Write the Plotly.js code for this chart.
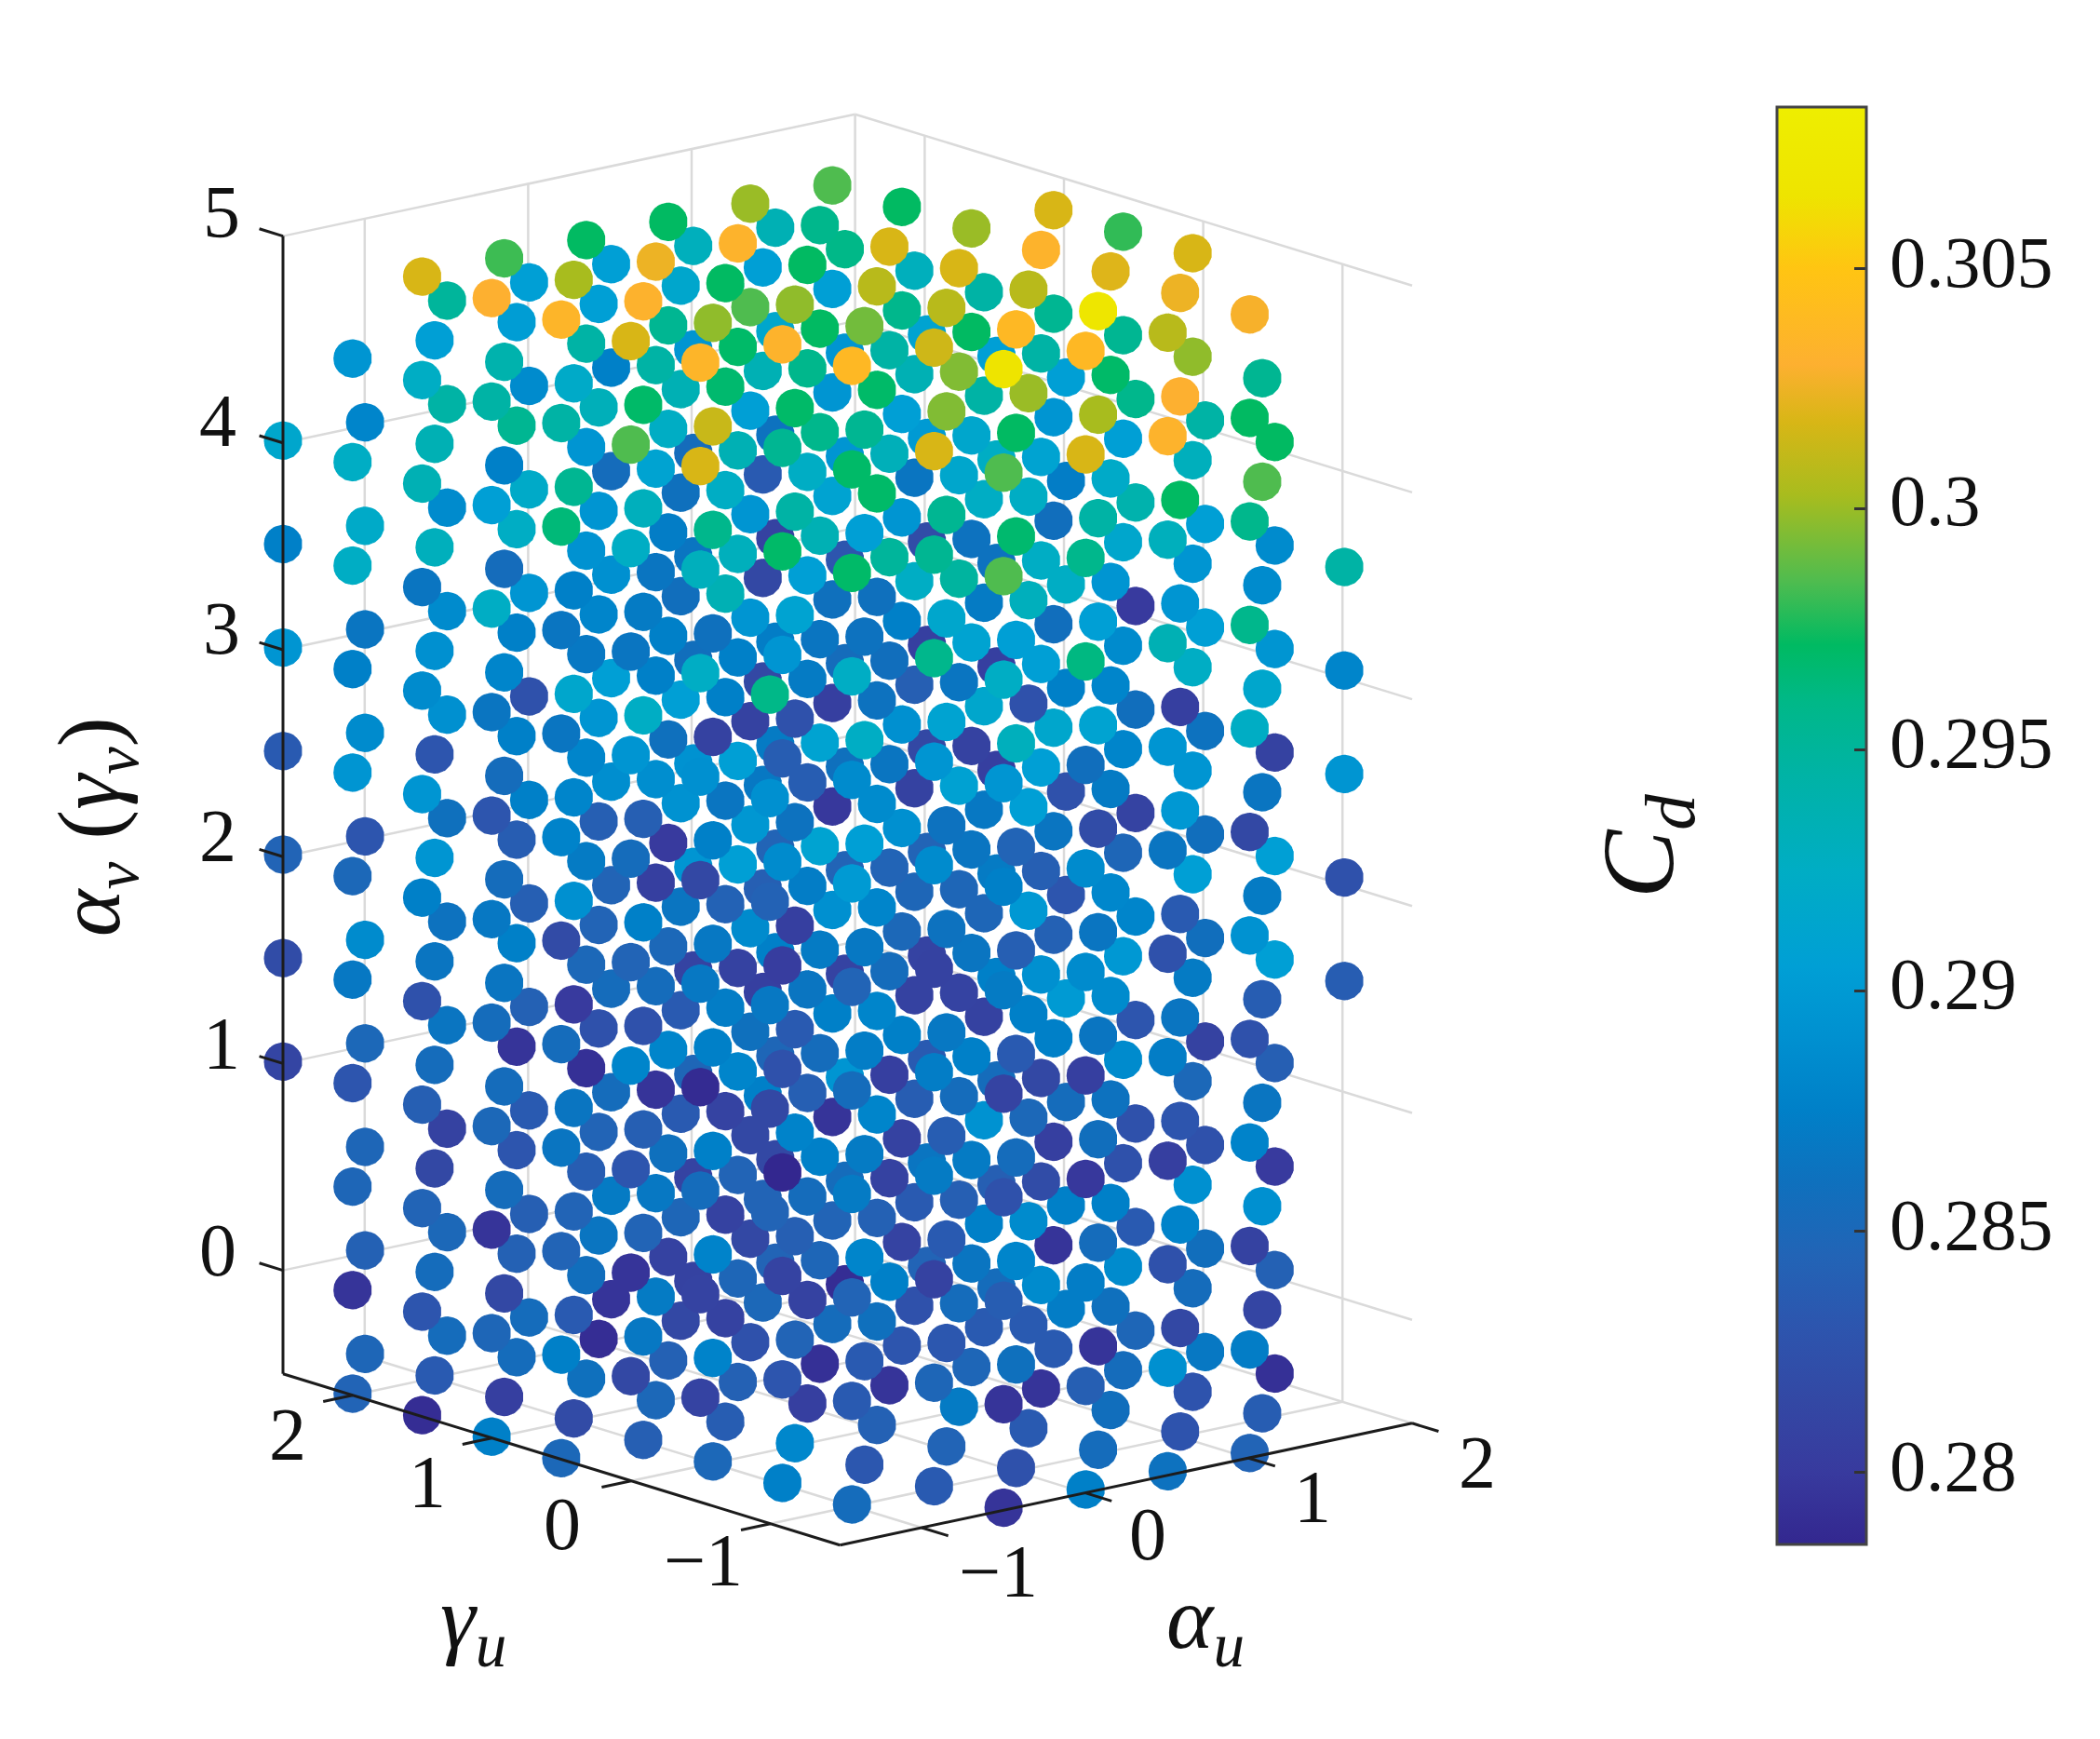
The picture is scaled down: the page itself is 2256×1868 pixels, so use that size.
<!DOCTYPE html>
<html><head><meta charset="utf-8">
<script src="https://cdn.plot.ly/plotly-3.0.1.min.js"></script>
<style>html,body{margin:0;padding:0;background:#fff}#g{width:2256px;height:1868px}</style>
</head><body><div id="g"></div>
<script>
const alphaU=[-1.5,-1,-0.5,0,0.5,1,1.5,2];
const gammaU=[2.5,2,1.5,1,0.5,0,-0.5,-1,-1.5];
const zLevels=[-0.5,0,0.5,1,1.5,2,2.5,3,3.5,4,4.5,5];
const _=null;
// Cd per (alpha column) for each gamma, bottom to top in z
const cdG25=[
[_,_,_,.2812,.282,.2845,.2835,.2895,.2875,.2915,_,_],
[.2848,.2842,.2848,.285,.2885,.283,.2885,.2865,.292,.288,_,_],
[.2855,.285,.2808,.2865,.2862,.286,.289,.2885,.2885,.2945,.295,_],
[.2855,.284,.2835,.2842,.284,.2875,.2825,.2895,.292,.2885,.2905,_],
[.2795,.287,.2855,.2855,.2845,.2888,.2905,.289,.2855,.2875,.2905,_],
[.2808,.281,.2848,.281,.2895,.2892,.2858,.2865,.2855,.2895,.293,_],
[.2845,.2815,.2848,.2875,.2845,.287,.2872,.2808,.2862,.2915,.2935,_],
[_,_,_,_,_,_,_,_,_,_,_,_]];
const cdG20=[
[.2845,.2795,.2848,.283,.2868,.285,.2895,.2875,.2925,.2925,.2895,_],
[.2835,.2855,.2815,.2855,.2865,.2895,.283,.289,.293,.2935,.2905,_],
[.2855,.2842,.283,.2795,.2875,.2838,.2875,.2875,.2925,.2955,.2903,_],
[.279,.2865,.2845,.2825,.2845,.284,.2895,.288,.2895,.2932,.2905,_],
[.2815,.2848,.2835,.2835,.2865,.2892,.2905,.2858,.286,.2935,.2915,_],
[.285,.2845,.2875,.2805,.284,.2868,.2815,.2815,.2835,.2935,.2905,_],
[.279,.2855,.2895,.281,.2845,.286,.2855,.283,.2895,.2895,.296,_],
[.2845,.2865,.2835,.281,.2845,.2815,.2805,.282,.29,.291,_,_]];
const cdG15=[
[.279,.283,.2845,.284,.2825,.2875,.2895,.2885,.2865,.2935,.2925,.3018],
[.2805,.2815,.2855,.2855,.2865,.2855,.2855,.288,.2855,.2875,.294,.2982],
[.286,.2858,.2838,.2792,.285,.287,.288,.2868,.2892,.2895,.2945,.2972],
[.2842,.2808,.286,.288,.285,.28,.286,.2875,.2872,.2925,.2955,.2972],
[.2825,.2815,.2815,.286,.2885,.2897,.2808,.2895,.2895,.2905,.2985,.3],
[.2855,.2845,.2795,.2875,.289,.2798,.2805,.286,.291,.2895,.2905,.2985],
[.2825,.2835,.2838,.2808,.2848,.2808,.284,.2925,.2865,.2935,.293,_],
[.2855,.284,.2855,.2875,.287,.2805,.2805,.2862,.2925,.2905,_,_]];
const cdG10=[
[.2875,.2848,.2795,.285,.2855,.2868,.283,.2865,.2925,.2905,.2945,.303],
[.2818,.2835,.2845,.2865,.28,.289,.288,.2915,.2875,.2955,.292,.3003],
[.285,.287,.2868,.2795,.2855,.2805,.2888,.2875,.2865,.291,.2945,.3025],
[.2842,.2848,.2845,.288,.2808,.2905,.2905,.2875,.293,.2935,.297,.3033],
[.2792,.2848,.2875,.2855,.287,.291,.291,.2865,.2935,.2958,.2972,.2958],
[.283,.281,.2808,.2875,.285,.289,.289,.2875,.2895,.2905,.2958,.2972],
[.2835,.2875,.2892,.2808,.2848,.2868,.2915,.287,.2925,.2945,.2945,_],
[.2872,.2875,.2855,.29,.283,.2825,.2875,.2925,.2872,.2905,_,_]];
const cdG05=[
[.285,.2875,.2845,.2865,.2855,.2818,.2878,.2865,.2865,.2965,.2945,.3035],
[.284,.2868,.2845,.284,.2825,.2875,.284,.2925,.287,.293,.297,.3032],
[.2838,.2808,.2808,.281,.2872,.2843,.2865,.2875,.2935,.2925,.2968,.2972],
[.2805,.2808,.2855,.284,.2865,.2872,.2838,.287,.2905,.2925,.2958,.2972],
[.2795,.2875,.2808,.2805,.2855,.2845,.2865,.2858,.295,.2932,.2945,.3018],
[.2848,.2865,.287,.2875,.2865,.2865,.2808,.291,.2862,.2915,.2972,.3],
[.2835,.2795,.2805,.2875,.2842,.2865,.2915,.2858,.2858,.2895,.2955,.3018],
[.2848,.2835,.2825,.283,.288,.281,.2858,.28,.294,.2958,_,_]];
const cdG00=[
[_,.2815,.2795,.283,.288,.2845,.2855,.2895,.2865,.2925,.2985,.3018],
[.285,.2878,.2878,.2875,.2875,.2868,.2875,.2808,.286,.2958,.3013,.2998],
[.2882,.2845,.284,.2878,.2835,.2805,.2862,.2825,.291,.2945,.297,.2998],
[.2842,.286,.2842,.288,.288,.288,.2885,.2862,.286,.297,.297,.3008],
[.287,.2855,.284,.2855,.281,.2848,.2908,.2865,.2948,.2915,.2995,.3018],
[.2795,.2885,.282,.2815,.289,.284,.2905,.2905,.2925,.291,.2945,.3033],
[.2855,.2885,.2825,.2885,.2898,.2848,.288,.2885,.2915,.2905,.2955,.298],
[.2868,.2858,.2825,.2808,.2858,.2858,.2862,.2905,.2905,.2945,_,_]];
const cdGm05=[
[_,.281,.281,.2855,.2788,.2868,.2815,.289,.2925,.293,.3018,.3035],
[.2875,.283,.281,.2785,.2825,.2803,.2885,.2838,.2895,.297,.2955,.3033],
[.2832,.2835,.288,.287,.2872,.2868,.2905,.2925,.2862,.2905,.2955,.2992],
[.2845,.2832,.2835,.2838,.2868,.2862,.2862,.291,.2915,.2955,.2995,.3008],
[.2835,.2835,.2885,.285,.2875,.2898,.2905,.2825,.293,.2925,.3,.3008],
[.2858,.286,.2875,.2862,.2885,.2882,.287,.288,.2895,.292,.297,.302],
[.2828,.2855,.289,.285,.287,.2905,.2895,.2925,.2895,.293,.2998,.3018],
[.2792,.2842,.28,.284,.2905,.2905,.2808,.2895,.2885,.2972,_,_]];
const cdGm10=[
[_,_,_,.2845,.2815,.2868,.2843,.289,.296,_,_,_],
[.2855,.2835,.2845,.287,.2855,.2845,.29,.2885,.2925,.297,.297,.3038],
[.2835,.2848,.2808,.287,.2872,.2808,.2885,.2895,.2958,.2955,.3018,.3015],
[.2825,.286,.288,.2855,.2835,.284,.2845,.293,.2905,.2968,.2972,.3038],
[.2855,.2795,.2855,.2858,.2865,.2865,.282,.291,.2905,.2945,.3003,.3068],
[.2828,.2815,.2878,.283,.2865,.2835,.2898,.2805,.2895,.2972,.303,.3025],
[.2838,.2812,.289,.2865,.2838,.287,.2865,.2915,.2885,.2985,.2955,_],
[_,_,_,_,.2838,.2825,.2895,.288,.2945,_,_,_]];
const cdGm15=[
[_,_,_,_,_,_,_,_,_,_,_,_],
[_,_,_,_,_,_,_,_,_,_,_,_],
[.2795,.2795,.2838,.2825,.281,.287,.2875,.2895,.2925,.2985,.2985,.3065],
[.2875,.284,.2872,.2798,.2805,.2885,.2885,.2858,.2962,.2958,.3018,.3038],
[.2862,.289,.2825,.2805,.2872,.2825,.2865,.2895,.2935,.293,.3033,.3008],
[.2845,.2872,.2808,.2878,.2825,.2892,.2815,.2925,.2958,.2958,.2972,.3028],
[_,_,_,_,_,_,_,_,_,_,_,_],
[_,_,_,_,_,_,_,_,_,_,_,_]];
const cdTables=[cdG25,cdG20,cdG15,cdG10,cdG05,cdG00,cdGm05,cdGm10,cdGm15];

const alphaTicks=[-1,0,1,2];
const gammaTicks=[-1,0,1,2];
const zTicks=[0,1,2,3,4,5];
const cbTicks=[0.28,0.285,0.29,0.295,0.3,0.305];
const cbLabels=['0.28','0.285','0.29','0.295','0.3','0.305'];
const alphaRange=[-1.5,2], gammaRange=[-1.5,2.5], zRange=[-0.5,5];

const parula=[[0,'#33278f'],[.05,'#383a9e'],[.10,'#3348a4'],[.151,'#2d55ae'],[.201,'#2264b6'],[.251,'#0f70bd'],
[.302,'#0080c8'],[.352,'#0090d0'],[.402,'#009fd5'],[.469,'#00adc4'],[.536,'#00b3a5'],[.586,'#00b888'],[.626,'#00ba62'],
[.67,'#4fbc4f'],[.73,'#a8bc1e'],[.781,'#d8b616'],[.821,'#fdb030'],[.888,'#ffc512'],[.938,'#eee400'],[1,'#eeee00']];

const xs=[],ys=[],zs=[],cs=[];
gammaU.forEach((g,j)=>alphaU.forEach((a,i)=>zLevels.forEach((z,k)=>{
  const v=cdTables[j][i][k];
  if(v!==null){xs.push(a);ys.push(g);zs.push(z);cs.push(v);}
})));

const W=2256,H=1868;
const serif='"Liberation Serif","Times New Roman",serif';
function ax(range){return {range:range,autorange:false,tickmode:'array',tickvals:[],ticktext:[],
  showticklabels:false,showbackground:false,showgrid:false,showline:false,ticks:'',
  zeroline:false,showspikes:false,title:{text:''}};}
function note(t,x,y,size,extra){return Object.assign({text:t,x:x/W,y:1-y/H,xref:'paper',yref:'paper',showarrow:false,
  xanchor:'center',yanchor:'middle',font:{family:serif,size:size,color:'#111'}},extra||{});}

// box frame: where the scene's corners fall on the page
function pageX(a,g){return 304+(a-alphaRange[0])*175.6+(gammaRange[1]-g)*149.6;}
function pageY(a,g,z){return 1475.7-(a-alphaRange[0])*37.4+(gammaRange[1]-g)*46-(z-zRange[0])*222.2;}
const xMax=alphaRange[1],xMin=alphaRange[0],yMax=gammaRange[1],yMin=gammaRange[0],zMax=zRange[1],zMin=zRange[0];
function seg(p,q,color,width,layer){return {type:'line',xref:'paper',yref:'paper',layer:layer,
  x0:pageX(p[0],p[1])/W,y0:1-pageY(p[0],p[1],p[2])/H,x1:pageX(q[0],q[1])/W,y1:1-pageY(q[0],q[1],q[2])/H,line:{color:color,width:width}};}
const shapes=[];
function gridLine(p,q){shapes.push(seg(p,q,'#dadada',2.5,'below'));}
function axisLine(p,q){shapes.push(seg(p,q,'#1c1c1c',3,'above'));}
alphaTicks.forEach(a=>{gridLine([a,yMax,zMin],[a,yMax,zMax]);gridLine([a,yMin,zMin],[a,yMax,zMin]);});
gammaTicks.forEach(g=>{gridLine([xMax,g,zMin],[xMax,g,zMax]);gridLine([xMin,g,zMin],[xMax,g,zMin]);});
zTicks.forEach(z=>{gridLine([xMin,yMax,z],[xMax,yMax,z]);gridLine([xMax,yMin,z],[xMax,yMax,z]);});
axisLine([xMin,yMax,zMin],[xMin,yMax,zMax]);
axisLine([xMin,yMax,zMin],[xMin,yMin,zMin]);
axisLine([xMin,yMin,zMin],[xMax,yMin,zMin]);
gammaTicks.forEach(g=>axisLine([xMin,g,zMin],[xMin-0.18,g,zMin]));
alphaTicks.forEach(a=>axisLine([a,yMin,zMin],[a,yMin-0.19,zMin]));
zTicks.forEach(z=>axisLine([xMin,yMax,z],[xMin,yMax+0.17,z]));

const tickSize=80, cbSize=78, cbLeft={xanchor:'left'};
const anns=[
 note('5',238,228,tickSize),note('4',234,452,tickSize),note('3',238,675,tickSize),note('2',234,898,tickSize),note('1',238,1121,tickSize),note('0',234,1343,tickSize),
 note('2',309,1541,tickSize),note('1',459,1592,tickSize),note('0',604,1637,tickSize),note('\u22121',755,1676,tickSize),
 note('\u22121',1072,1688,tickSize),note('0',1233,1648,tickSize),note('1',1410,1608,tickSize),note('2',1587,1571,tickSize),
 note('<i>α<sub>v</sub></i> (<i>γ<sub>v</sub></i>)',102,888,96,{textangle:-90}),
 note('<i>γ<sub>u</sub></i>',508,1744,96),
 note('<i>α<sub>u</sub></i>',1295,1744,96),
 note('<i>C<sub>d</sub></i>',1768,909,110,{textangle:-90})
];
const cbLabelY=[1574,1315,1056,797,538,281];
cbLabels.forEach((t,i)=>anns.push(note(t,2028,cbLabelY[i],cbSize,cbLeft)));

const R=2.011, zoom=1.044;
const trace={type:'scatter3d',mode:'markers',x:xs,y:ys,z:zs,hoverinfo:'skip',
 marker:{size:24,sizemode:'diameter',opacity:1,color:cs,cmin:0.2785,cmax:0.30835,colorscale:parula,line:{width:0},
  colorbar:{x:1909/W,xanchor:'left',y:1-115/H,yanchor:'top',len:1544,lenmode:'pixels',thickness:96,thicknessmode:'pixels',xpad:0,ypad:0,
   outlinecolor:'#444',outlinewidth:3,ticks:'inside',ticklen:14,tickwidth:3,tickcolor:'#333',tickmode:'array',tickvals:cbTicks,ticktext:cbLabels,
   showticklabels:false,bgcolor:'rgba(0,0,0,0)',borderwidth:0}}};
const layout={width:W,height:H,margin:{l:0,r:0,t:0,b:0},paper_bgcolor:'#fff',plot_bgcolor:'#fff',showlegend:false,
 annotations:anns,shapes:shapes,hovermode:false,
 scene:{domain:{x:[0,0.8076],y:[0.052,1]},bgcolor:'rgba(0,0,0,0)',aspectmode:'manual',aspectratio:{x:3.5/4*zoom,y:zoom,z:5.5/4*zoom*0.997},
  xaxis:ax(alphaRange),yaxis:ax(gammaRange),zaxis:ax(zRange),
  camera:{projection:{type:'orthographic'},up:{x:0,y:0,z:1},center:{x:0,y:0,z:0},eye:{x:-0.624*R,y:-0.736*R,z:0.262*R}}}};
Plotly.newPlot('g',[trace],layout,{displayModeBar:false});
</script></body></html>
